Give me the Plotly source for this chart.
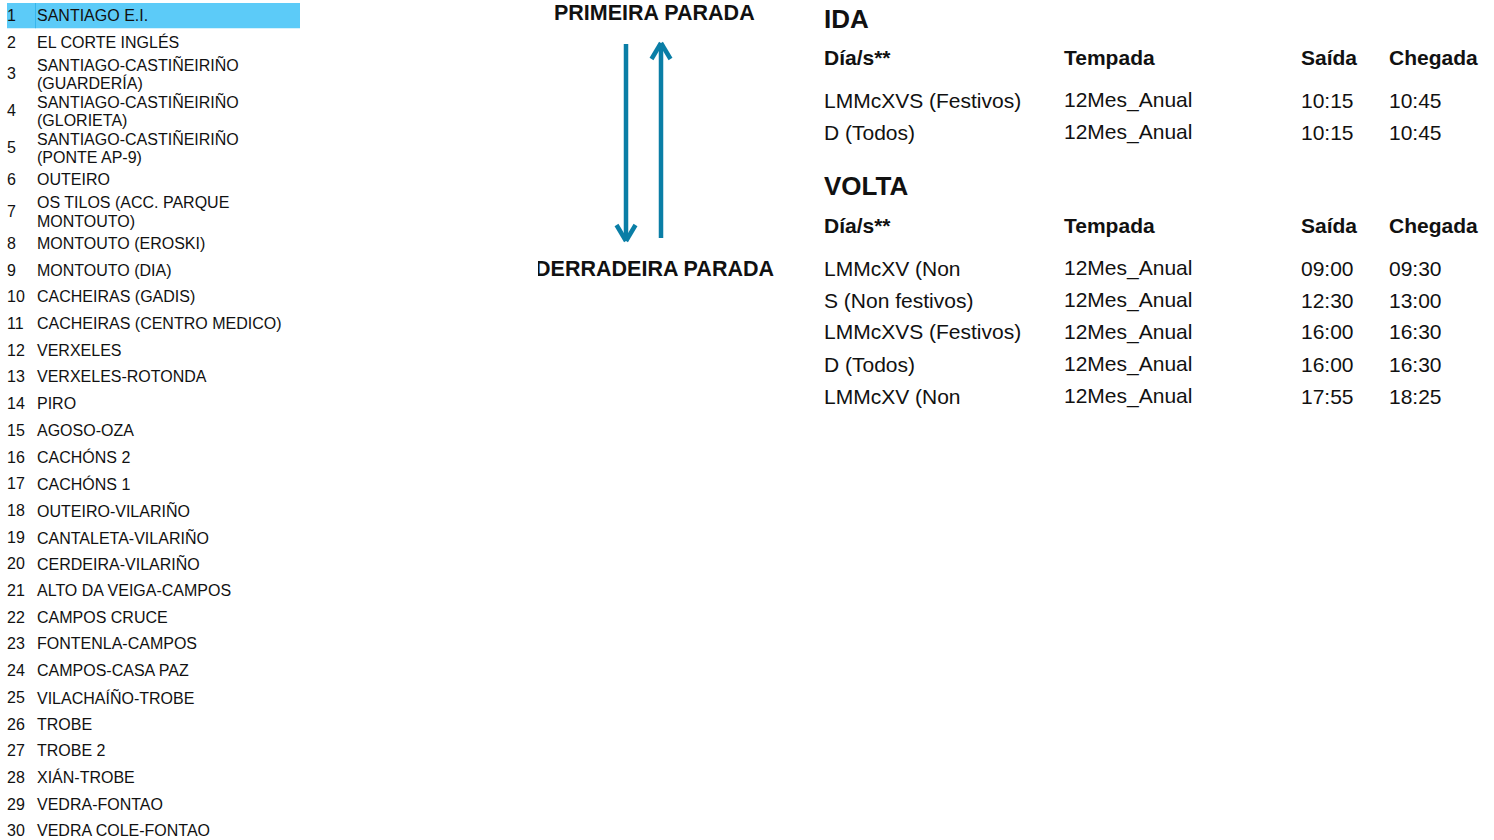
import plotly.graph_objects as go

# ---------------- data ----------------
stop_numbers = list(range(1, 31))
stop_names = [
    "SANTIAGO E.I.", "EL CORTE INGLÉS", "SANTIAGO-CASTIÑEIRIÑO\n(GUARDERÍA)",
    "SANTIAGO-CASTIÑEIRIÑO\n(GLORIETA)", "SANTIAGO-CASTIÑEIRIÑO\n(PONTE AP-9)",
    "OUTEIRO", "OS TILOS (ACC. PARQUE\nMONTOUTO)", "MONTOUTO (EROSKI)",
    "MONTOUTO (DIA)", "CACHEIRAS (GADIS)", "CACHEIRAS (CENTRO MEDICO)",
    "VERXELES", "VERXELES-ROTONDA", "PIRO", "AGOSO-OZA", "CACHÓNS 2",
    "CACHÓNS 1", "OUTEIRO-VILARIÑO", "CANTALETA-VILARIÑO", "CERDEIRA-VILARIÑO",
    "ALTO DA VEIGA-CAMPOS", "CAMPOS CRUCE", "FONTENLA-CAMPOS", "CAMPOS-CASA PAZ",
    "VILACHAÍÑO-TROBE", "TROBE", "TROBE 2", "XIÁN-TROBE", "VEDRA-FONTAO",
    "VEDRA COLE-FONTAO",
]
highlighted_stop = 1

first_stop_label = "PRIMEIRA PARADA"
last_stop_label = "DERRADEIRA PARADA"

table_headers = ["Día/s**", "Tempada", "Saída", "Chegada"]

ida_days = ["LMMcXVS (Festivos)", "D (Todos)"]
ida_season = ["12Mes_Anual", "12Mes_Anual"]
ida_departure = ["10:15", "10:15"]
ida_arrival = ["10:45", "10:45"]

volta_days = ["LMMcXV (Non", "S (Non festivos)", "LMMcXVS (Festivos)", "D (Todos)", "LMMcXV (Non"]
volta_season = ["12Mes_Anual"] * 5
volta_departure = ["09:00", "12:30", "16:00", "16:00", "17:55"]
volta_arrival = ["09:30", "13:00", "16:30", "16:30", "18:25"]

# ---------------- layout constants ----------------
W, H = 1494, 840
FONT = "Liberation Sans, Arial, sans-serif"
BLUE = "#0A7EA6"
HILITE = "#5CCBF8"
CLIP_LEFT = 538  # left edge of the clipped label cell


def px(x):
    return x / W


def py(y):
    return 1 - y / H


fig = go.Figure()
ann = []
shapes = []


def text(x, y, s, size, anchor="left", bold=False):
    ann.append(dict(x=px(x), y=py(y), xref="paper", yref="paper",
                    text=("<b>%s</b>" % s) if bold else s,
                    xanchor=anchor, yanchor="middle", showarrow=False,
                    borderpad=0, borderwidth=0,
                    font=dict(size=size, color="#111", family=FONT)))


# ---- stops list ----
LS = 16
row_h1, row_h2 = 26.7, 37.0
y = 2.0
for num, name in zip(stop_numbers, stop_names):
    lines = name.split("\n")
    h = row_h1 if len(lines) == 1 else row_h2
    cy = y + h / 2
    if num == highlighted_stop:
        shapes.append(dict(type="rect", xref="paper", yref="paper",
                           x0=px(7), x1=px(300), y0=py(y + 1), y1=py(y + h - 0.5),
                           fillcolor=HILITE, line=dict(width=0), layer="below"))
        shapes.append(dict(type="line", xref="paper", yref="paper",
                           x0=px(35.5), x1=px(35.5), y0=py(y + 1), y1=py(y + h - 0.5),
                           line=dict(color="#38B6EC", width=1), layer="below"))
    text(7, cy, str(num), LS)
    for k, ln in enumerate(lines):
        off = 0 if len(lines) == 1 else (k - 0.5) * 19
        text(37, cy + off, ln, LS)
    y += h

# ---- direction arrows ----
text(654, 13, first_stop_label, 21.5, anchor="center", bold=True)
# last-stop label is clipped by its cell on the left, as in the reference
fig.add_trace(go.Scatter(x=[774], y=[271], mode="text",
                         text=["<b>" + last_stop_label + "</b>"],
                         textposition="middle left",
                         textfont=dict(size=21.5, color="#111", family=FONT),
                         cliponaxis=True, hoverinfo="skip", showlegend=False))
lw = 4.5
arrow_lines = [
    (626, 44, 626, 239), (626, 241, 616.5, 225), (626, 241, 635.5, 225),
    (661, 238, 661, 45), (661, 43, 651.5, 59), (661, 43, 670.5, 59),
]
for x0, y0, x1, y1 in arrow_lines:
    shapes.append(dict(type="line", xref="paper", yref="paper",
                       x0=px(x0), y0=py(y0), x1=px(x1), y1=py(y1),
                       line=dict(color=BLUE, width=lw)))

# ---- timetable ----
col_x = [824, 1064, 1301, 1389]
TS = 21


def table(title, ty, hy, rows_y, cols):
    text(col_x[0], ty, title, 26, bold=True)
    for cx, hd in zip(col_x, table_headers):
        text(cx, hy, hd, TS, bold=True)
    for i, ry in enumerate(rows_y):
        for cx, col in zip(col_x, cols):
            text(cx, ry, col[i], TS)


table("IDA", 19, 57.5, [100 + 32 * i for i in range(len(ida_days))],
      [ida_days, ida_season, ida_departure, ida_arrival])
table("VOLTA", 186, 225.5, [268 + 32 * i for i in range(len(volta_days))],
      [volta_days, volta_season, volta_departure, volta_arrival])

fig.update_layout(
    width=W, height=H, margin=dict(l=0, r=0, t=0, b=0),
    paper_bgcolor="white", plot_bgcolor="rgba(0,0,0,0)",
    xaxis=dict(visible=False, fixedrange=True, domain=[CLIP_LEFT / W, 1],
               range=[CLIP_LEFT, W]),
    yaxis=dict(visible=False, fixedrange=True, range=[H, 0]),
    annotations=ann, shapes=shapes, showlegend=False,
)

fig.write_html("out.html", config={"displayModeBar": False},
               post_script="document.body.style.margin='0';document.body.style.overflow='hidden';")
